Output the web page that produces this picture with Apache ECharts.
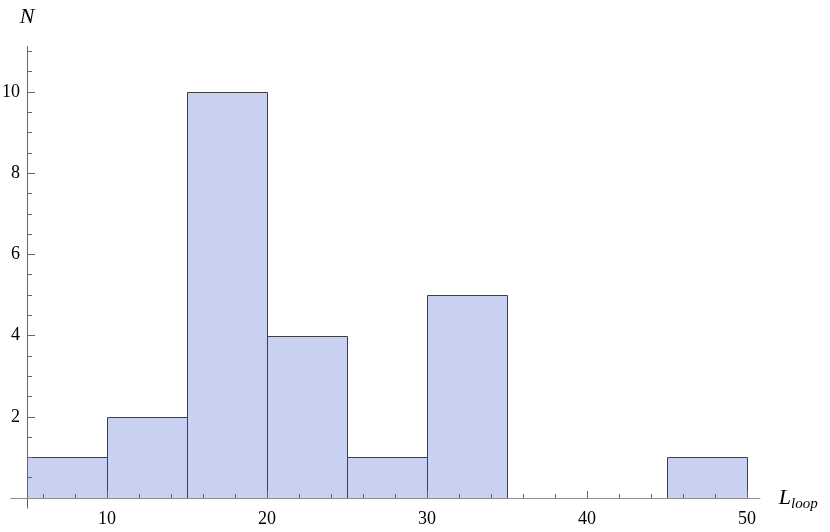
<!DOCTYPE html>
<html>
<head>
<meta charset="utf-8">
<script src="https://cdn.jsdelivr.net/npm/echarts@6/dist/echarts.min.js"></script>
<style>
  html, body { margin: 0; padding: 0; background: #fff; }
  #histGraph { width: 830px; height: 532px; }
</style>
</head>
<body>
<div id="histGraph"></div>
<script>
// histogram bins (left edge), bin width and counts
var binStart = [5, 10, 15, 20, 25, 30, 45];
var binWidth = 5;
var counts = [1, 2, 10, 4, 1, 5, 1];

// tick labels / tick positions
var xMajor = [10, 20, 30, 40, 50];
var xMinor = [6, 8, 12, 14, 16, 18, 22, 24, 26, 28, 32, 34, 36, 38, 42, 44, 46, 48];
var yMajor = [2, 4, 6, 8, 10];
var yMinor = [0.5, 1, 1.5, 2.5, 3, 3.5, 4.5, 5, 5.5, 6.5, 7, 7.5, 8.5, 9, 9.5, 10.5, 11];

var fontName = "Liberation Serif";
var axisColor = "#8c8c8c";
var tickColor = "#666666";
var barFill = "#c9d1f3";
var barEdge = "#404040";

var chart = echarts.init(document.getElementById("histGraph"));

var data = binStart.map(function(s, i) {
  return [s, s + binWidth, counts[i]];
});

var xCommon = {
  type: "value",
  position: "bottom",
  min: 4,
  max: 50.8,
  z: 5,
  splitLine: { show: false },
  axisLine: { show: true, onZero: true, lineStyle: { color: axisColor, width: 1 } },
  axisLabel: { show: false },
  axisTick: { show: false }
};
var yCommon = {
  type: "value",
  position: "left",
  min: -0.25,
  max: 11.12,
  offset: -16,
  z: 5,
  splitLine: { show: false },
  axisLine: { show: false, onZero: false },
  axisLabel: { show: false },
  axisTick: { show: false }
};

var option = {
  animation: false,
  backgroundColor: "#fff",
  textStyle: { fontFamily: fontName },
  grid: {
    left: 11, right: 70.2, top: 46.5, bottom: 23.85,
    containLabel: false,
    outerBoundsMode: "none"
  },
  xAxis: [
    Object.assign({}, xCommon, {
      name: "{L|L}{s|loop}",
      nameLocation: "end",
      nameGap: 19,
      nameTextStyle: {
        rich: {
          L: { fontFamily: fontName, fontStyle: "italic", fontSize: 22, color: "#000" },
          s: { fontFamily: fontName, fontStyle: "italic", fontSize: 15, color: "#000", padding: [12, 0, 0, 0] }
        }
      },
      axisLabel: {
        show: true,
        customValues: xMajor,
        color: "#000",
        fontFamily: fontName,
        fontSize: 18,
        margin: 2
      },
      axisTick: { show: true, customValues: xMajor, inside: true, length: 7, lineStyle: { color: tickColor } }
    }),
    Object.assign({}, xCommon, {
      axisLine: { show: true, onZero: true, lineStyle: { color: axisColor, width: 1 } },
      axisTick: { show: true, customValues: xMinor, inside: true, length: 4, lineStyle: { color: tickColor } }
    })
  ],
  yAxis: [
    Object.assign({}, yCommon, {
      name: "N",
      nameLocation: "end",
      nameGap: 18,
      nameTextStyle: { fontFamily: fontName, fontStyle: "italic", fontSize: 22, color: "#000", align: "center" },
      axisLine: { show: true, onZero: false, lineStyle: { color: tickColor, width: 1 } },
      axisLabel: {
        show: true,
        customValues: yMajor,
        color: "#000",
        fontFamily: fontName,
        fontSize: 18,
        margin: 7
      },
      axisTick: { show: true, customValues: yMajor, inside: true, length: 8, lineStyle: { color: tickColor } }
    }),
    Object.assign({}, yCommon, {
      axisTick: { show: true, customValues: yMinor, inside: true, length: 5, lineStyle: { color: tickColor } }
    })
  ],
  series: [
    {
      type: "custom",
      xAxisIndex: 0,
      yAxisIndex: 0,
      encode: { x: [0, 1], y: 2 },
      renderItem: function(params, api) {
        var p0 = api.coord([api.value(0), 0]);
        var p1 = api.coord([api.value(1), api.value(2)]);
        return {
          type: "rect",
          shape: {
            x: Math.round(p0[0]) + 0.5,
            y: Math.round(p1[1]) + 0.5,
            width: Math.round(p1[0]) - Math.round(p0[0]),
            height: Math.round(p0[1]) - Math.round(p1[1])
          },
          style: { fill: barFill, stroke: barEdge, lineWidth: 1 }
        };
      },
      data: data,
      z: 1
    }
  ]
};
chart.setOption(option);
</script>
</body>
</html>
